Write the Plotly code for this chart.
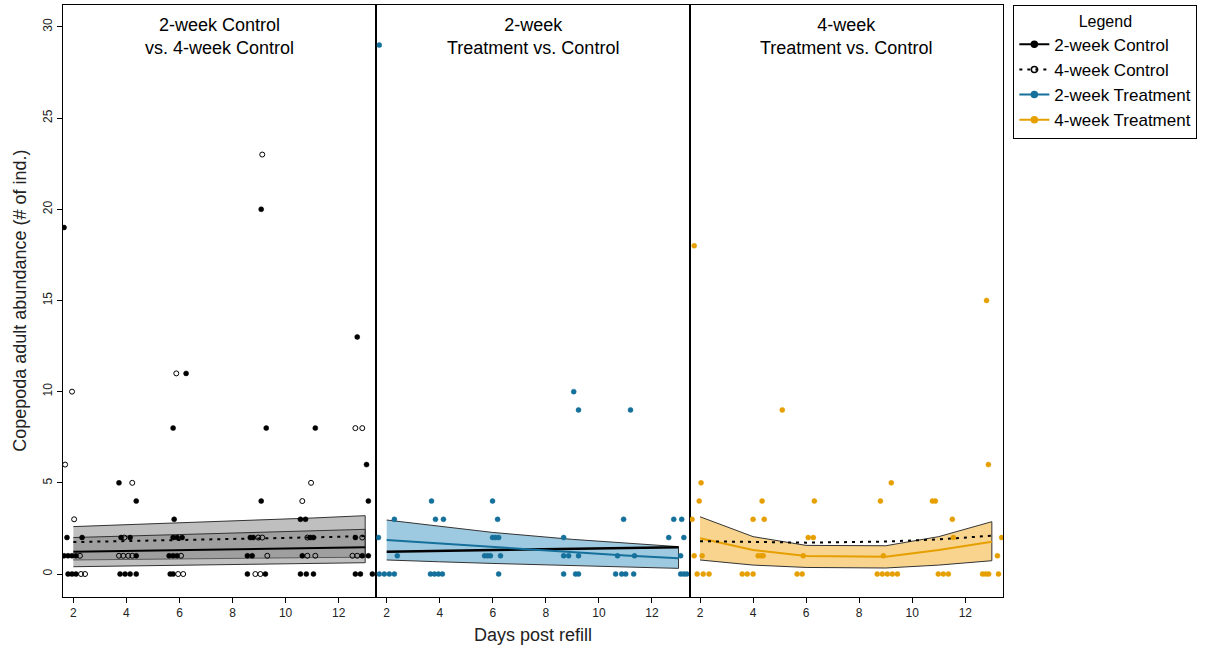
import plotly.graph_objects as go

# ---------------- data ----------------
tick_days = [2, 4, 6, 8, 10, 12]
y_ticks = [0, 5, 10, 15, 20, 25, 30]

# Panel 1: 2-week Control (filled) and 4-week Control (open)
p1_c2_day = [1.65, 1.76, 2.33, 3.80, 4.14, 5.76, 5.91, 6.10, 8.67, 8.78, 10.93, 11.05, 12.63,
             1.65, 1.80, 1.95, 2.10, 4.37, 5.61, 5.76, 5.91, 8.56, 8.74, 10.63, 12.89, 13.12,
             1.80, 1.95, 2.10, 3.76, 3.95, 4.14, 4.37, 5.65, 5.76, 8.56, 9.24, 10.56, 10.78, 11.05, 12.63, 12.82, 13.27,
             3.72, 4.37, 5.76, 5.80, 6.25, 9.08, 9.08, 9.27, 10.56, 10.75, 11.12, 12.70, 13.05, 13.12]
p1_c2_val = [19, 2, 2, 2, 2, 2, 2, 2, 2, 2, 2, 2, 2,
             1, 1, 1, 1, 1, 1, 1, 1, 1, 1, 1, 1, 1,
             0, 0, 0, 0, 0, 0, 0, 0, 0, 0, 0, 0, 0, 0, 0, 0, 0,
             5, 4, 8, 3, 11, 20, 4, 8, 3, 3, 8, 13, 6, 4]

p1_c4_day = [1.69, 1.95, 2.03, 4.22, 5.88, 9.12, 10.63, 10.96, 12.63, 12.89,
             3.92, 8.97, 9.12, 10.82, 12.89,
             2.25, 3.72, 3.88, 4.07, 4.22, 6.06, 9.31, 10.82, 11.12, 12.52, 12.70,
             2.29, 2.44, 5.95, 6.14, 8.86, 9.05]
p1_c4_val = [6, 10, 3, 5, 11, 23, 4, 5, 8, 8,
             2, 2, 2, 2, 2,
             1, 1, 1, 1, 1, 1, 1, 1, 1, 1, 1,
             0, 0, 0, 0, 0, 0]

# Panel 2: 2-week Treatment
p2_t2_day = [1.72, 9.05, 9.23, 11.19,
             3.69, 5.99,
             2.29, 3.84, 4.14, 6.18, 10.93, 12.82, 13.12,
             1.69, 5.99, 6.10, 6.22, 8.67, 12.63, 13.20,
             2.40, 5.69, 5.80, 5.91, 6.29, 8.67, 8.86, 9.23, 10.70, 11.34, 13.08,
             1.72, 1.91, 2.10, 2.29, 3.65, 3.80, 3.95, 4.10, 6.22, 8.67, 9.12, 9.23,
             10.63, 10.86, 11.01, 11.31, 13.08, 13.20, 13.31]
p2_t2_val = [29, 10, 9, 9,
             4, 4,
             3, 3, 3, 3, 3, 3, 3,
             2, 2, 2, 2, 2, 2, 2,
             1, 1, 1, 1, 1, 1, 1, 1, 1, 1, 1,
             0, 0, 0, 0, 0, 0, 0, 0, 0, 0, 0, 0,
             0, 0, 0, 0, 0, 0, 0]

# Panel 3: 4-week Treatment
p3_t4_day = [1.78, 12.80, 12.87, 5.10,
             2.04, 9.21,
             1.97, 4.34, 6.31, 8.80, 10.76, 10.87,
             1.70, 4.00, 4.42, 11.51,
             6.08, 6.27, 11.55, 13.37,
             1.78, 2.08, 4.19, 4.31, 4.38, 5.89, 8.91, 13.21,
             1.89, 2.12, 2.34, 3.59, 3.78, 4.00, 5.66, 5.85, 8.68, 8.87, 9.06, 9.25, 9.44,
             10.98, 11.17, 11.36, 12.65, 12.77, 12.88, 13.25]
p3_t4_val = [18, 15, 6, 9,
             5, 5,
             4, 4, 4, 4, 4, 4,
             3, 3, 3, 3,
             2, 2, 2, 2,
             1, 1, 1, 1, 1, 1, 1, 1,
             0, 0, 0, 0, 0, 0, 0, 0, 0, 0, 0, 0, 0,
             0, 0, 0, 0, 0, 0, 0]

# Model fits (evaluated on sampling days)
fit_days = [2, 4, 6, 9, 11, 13]
c2_mean = [1.22, 1.27, 1.31, 1.38, 1.42, 1.47]
c2_lo = [0.40, 0.45, 0.49, 0.55, 0.58, 0.62]
c2_hi = [2.00, 2.08, 2.16, 2.27, 2.36, 2.45]
c4_mean = [1.75, 1.80, 1.86, 1.95, 2.01, 2.08]
c4_lo = [0.77, 0.80, 0.83, 0.87, 0.90, 0.92]
c4_hi = [2.60, 2.70, 2.80, 2.96, 3.07, 3.20]
t2_mean = [1.86, 1.67, 1.48, 1.20, 1.02, 0.86]
t2_lo = [0.77, 0.67, 0.58, 0.46, 0.38, 0.31]
t2_hi = [2.96, 2.62, 2.28, 1.90, 1.68, 1.50]
c4q_mean = [1.80, 1.74, 1.72, 1.78, 1.90, 2.10]
t4_mean = [1.96, 1.32, 0.99, 0.95, 1.32, 1.77]
t4_lo = [0.77, 0.49, 0.36, 0.33, 0.49, 0.73]
t4_hi = [3.14, 2.05, 1.57, 1.55, 2.05, 2.87]

panel_titles = ["2-week Control<br>vs. 4-week Control",
                "2-week<br>Treatment vs. Control",
                "4-week<br>Treatment vs. Control"]
legend_names = ["2-week Control", "4-week Control", "2-week Treatment", "4-week Treatment"]

# ---------------- style ----------------
BLUE = "#15709b"
ORANGE = "#E69F00"
FONT = "Liberation Sans, Arial, sans-serif"
DASH = "3px,5px"

fig = go.Figure()


def band(xa, ya, lo, hi, fill, edge="#333333"):
    fig.add_trace(go.Scatter(
        x=fit_days + fit_days[::-1], y=hi + lo[::-1], fill="toself",
        fillcolor=fill, line=dict(color=edge, width=1), mode="lines",
        xaxis=xa, yaxis=ya, showlegend=False, hoverinfo="skip"))


def line(xa, ya, yv, color, dash="solid", width=2):
    fig.add_trace(go.Scatter(
        x=fit_days, y=yv, mode="lines", line=dict(color=color, width=width, dash=dash),
        xaxis=xa, yaxis=ya, showlegend=False))


def pts(xa, ya, xs, ys, color, symbol="circle", lw=0.5):
    fig.add_trace(go.Scatter(
        x=xs, y=ys, mode="markers", xaxis=xa, yaxis=ya, showlegend=False,
        marker=dict(color=color, size=5, symbol=symbol,
                    line=dict(color=color, width=lw))))


# Panel 1
band("x", "y", c4_lo, c4_hi, "rgba(128,128,128,0.5)")
band("x", "y", c2_lo, c2_hi, "rgba(128,128,128,0.5)")
line("x", "y", c2_mean, "black")
line("x", "y", c4_mean, "black", DASH)
pts("x", "y", p1_c2_day, p1_c2_val, "black")
pts("x", "y", p1_c4_day, p1_c4_val, "black", "circle-open", 1)

# Panel 2
band("x2", "y2", t2_lo, t2_hi, "#9ecae1")
line("x2", "y2", c2_mean, "black", width=2.5)
line("x2", "y2", t2_mean, BLUE)
pts("x2", "y2", p2_t2_day, p2_t2_val, BLUE)

# Panel 3
band("x3", "y3", t4_lo, t4_hi, "#f9d48e")
line("x3", "y3", t4_mean, ORANGE)
line("x3", "y3", c4q_mean, "black", DASH)
pts("x3", "y3", p3_t4_day, p3_t4_val, ORANGE)

# Legend entries
leg_styles = [("black", "solid", "circle"), ("black", DASH, "circle-open"),
              (BLUE, "solid", "circle"), (ORANGE, "solid", "circle")]
for name, (col, dsh, sym) in zip(legend_names, leg_styles):
    fig.add_trace(go.Scatter(
        x=[None], y=[None], mode="lines+markers", name=name,
        line=dict(color=col, width=2, dash=dsh),
        marker=dict(color=col, size=6, symbol=sym, line=dict(color=col, width=1.5)),
        xaxis="x", yaxis="y"))

xcommon = dict(range=[1.61, 13.42], tickvals=tick_days, ticks="outside", ticklen=5,
               tickcolor="black", showline=True, mirror=True, linecolor="black",
               linewidth=1, showgrid=False, zeroline=False,
               tickfont=dict(size=12, color="#222", family=FONT))
ycommon = dict(range=[-1.26, 31.2], showline=True, mirror=True, linecolor="black",
               linewidth=1, showgrid=False, zeroline=False)

fig.update_layout(
    width=1213, height=648,
    margin=dict(l=63, r=210, t=5, b=51),
    plot_bgcolor="white", paper_bgcolor="white",
    font=dict(family=FONT, color="black"),
    xaxis=dict(domain=[0, 1/3], anchor="y", **xcommon),
    xaxis2=dict(domain=[1/3, 2/3], anchor="y2", **xcommon),
    xaxis3=dict(domain=[2/3, 1], anchor="y3", **xcommon),
    yaxis=dict(anchor="x", tickvals=y_ticks, ticks="outside", ticklen=5, tickcolor="black",
               tickangle=-90, tickfont=dict(size=12, color="#222", family=FONT), **ycommon),
    yaxis2=dict(anchor="x2", matches="y", showticklabels=False, ticks="", **ycommon),
    yaxis3=dict(anchor="x3", matches="y", showticklabels=False, ticks="", **ycommon),
    legend=dict(x=1.011, y=1, xanchor="left", yanchor="top",
                bordercolor="black", borderwidth=1, bgcolor="white",
                font=dict(size=17, family=FONT, color="black"),
                title=dict(text="Legend", side="top center",
                           font=dict(size=16, family=FONT, color="black")),
                itemwidth=30, tracegroupgap=0),
    showlegend=True,
)

centers = [1/6, 1/2, 5/6]
for c, t in zip(centers, panel_titles):
    fig.add_annotation(x=c, y=0.987, xref="paper", yref="paper", text=t, showarrow=False,
                       xanchor="center", yanchor="top",
                       font=dict(size=18, family=FONT, color="black"))

fig.add_annotation(x=-0.046, y=0.5, xref="paper", yref="paper",
                   text="Copepoda adult abundance (# of ind.)", textangle=-90,
                   showarrow=False, xanchor="center", yanchor="middle",
                   font=dict(size=18, family=FONT, color="#222"))
fig.add_annotation(x=0.5, y=-0.064, xref="paper", yref="paper",
                   text="Days post refill", showarrow=False,
                   xanchor="center", yanchor="middle",
                   font=dict(size=18, family=FONT, color="#222"))

fig.write_html("out.html", config={"displayModeBar": False},
               post_script="document.body.style.margin='0';")
